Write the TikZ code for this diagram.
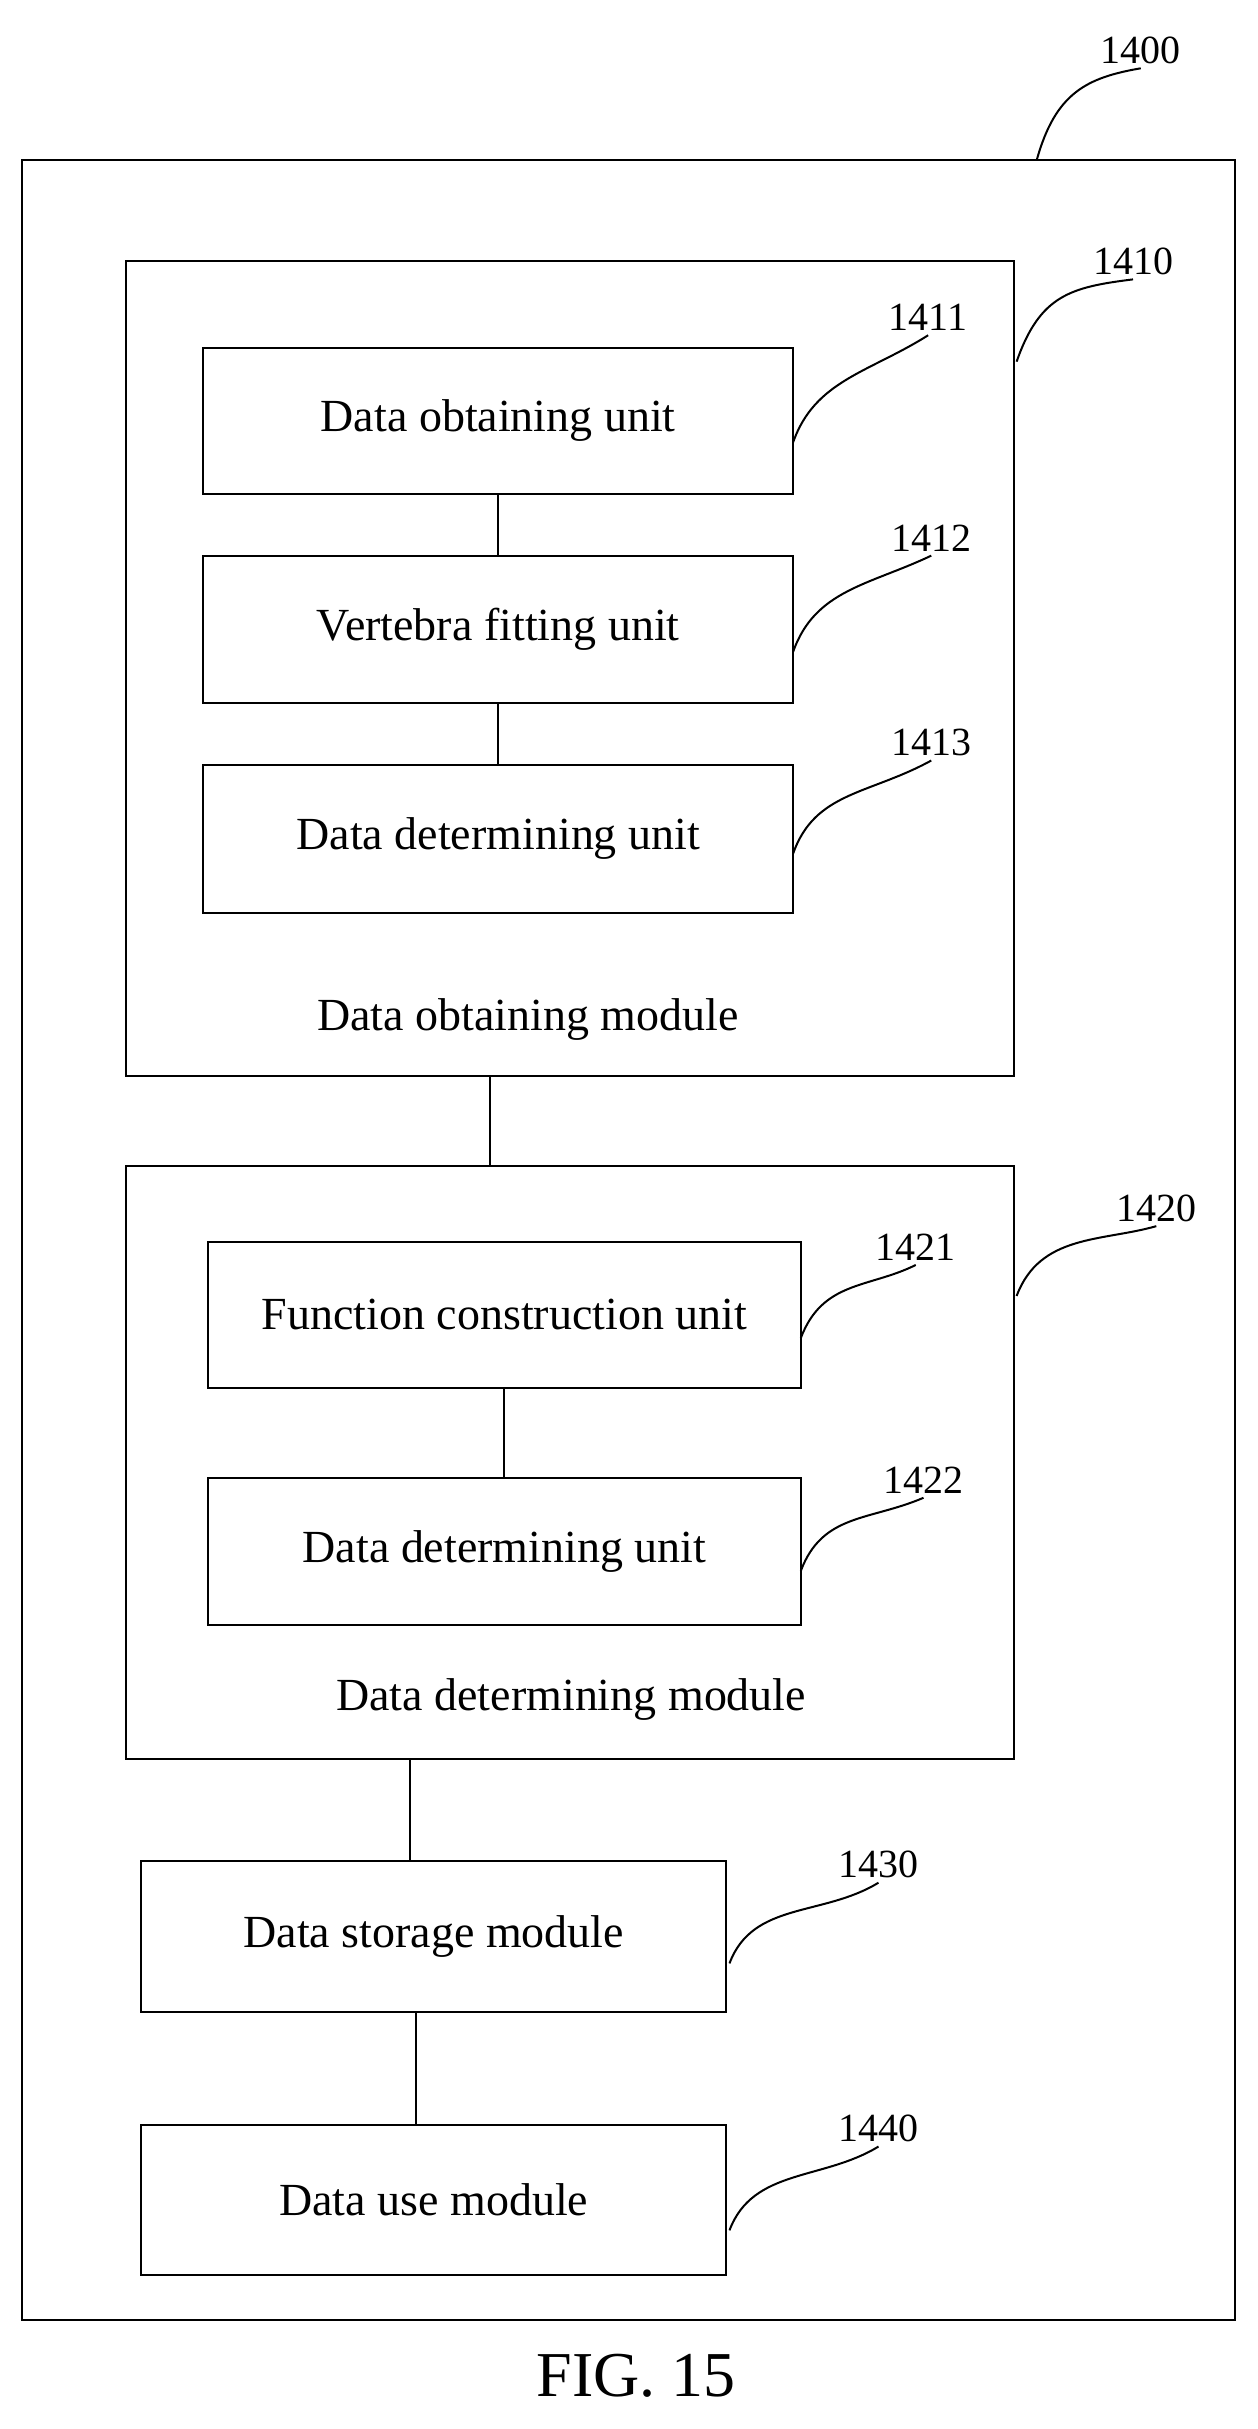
\documentclass[tikz,border=0pt]{standalone}
\usepackage{fontspec}
\setmainfont{Liberation Serif}
\usetikzlibrary{positioning, calc}
\newcommand\unitpx{0.7765pt}
\begin{document}
\begin{tikzpicture}
            [
                x=\unitpx, y=-\unitpx,
                every node/.style={font=\fontsize{23}{27}\selectfont},
                box/.style={draw, line width=1pt, inner sep=0pt},
                lead/.style={line width=1pt},
                ref/.style={anchor=south, inner sep=2pt, font=\fontsize{20}{24}\selectfont}
            ]
            \useasboundingbox (0,0) rectangle (810,1565);
            % outer frame and modules
            \node [box, minimum width=782*\unitpx, minimum height=1392*\unitpx] (d1400) at (405,799) {};
            \node [box, minimum width=572*\unitpx, minimum height=525*\unitpx] (m1410) at (367,430.5) {};
            \node [box, minimum width=380*\unitpx, minimum height=94*\unitpx] (u1411) at (321,271) {Data obtaining unit};
            \node [box, minimum width=380*\unitpx, minimum height=95*\unitpx] (u1412) at (321,405.5) {Vertebra fitting unit};
            \node [box, minimum width=380*\unitpx, minimum height=95*\unitpx] (u1413) at (321,540.5) {Data determining unit};
            \node (t1410) at (340,657) {Data obtaining module};
            \node [box, minimum width=572*\unitpx, minimum height=382*\unitpx] (m1420) at (367,942) {};
            \node [box, minimum width=382*\unitpx, minimum height=94*\unitpx] (u1421) at (325,847) {Function construction unit};
            \node [box, minimum width=382*\unitpx, minimum height=95*\unitpx] (u1422) at (325,999.5) {Data determining unit};
            \node (t1420) at (368,1095) {Data determining module};
            \node [box, minimum width=377*\unitpx, minimum height=97*\unitpx] (m1430) at (279.5,1247.5) {Data storage module};
            \node [box, minimum width=377*\unitpx, minimum height=97*\unitpx] (m1440) at (279.5,1417.5) {Data use module};
            \node [font=\fontsize{32}{36}\selectfont] (fig) at (410,1531) {FIG. 15};
            % connections
            \draw [lead] (u1411) -- (u1412);
            \draw [lead] (u1412) -- (u1413);
            \draw [lead] (u1421) -- (u1422);
            \draw [lead] (m1410.south -| 316,0) -- (m1420.north -| 316,0);
            \draw [lead] (m1420.south -| 264,0) -- (m1430.north -| 264,0);
            \draw [lead] (m1430.south -| 268,0) -- (m1440.north -| 268,0);
            % reference numerals
            \draw [lead] (668,103) .. controls (680,60) and (700,50) .. (735,44) coordinate (c1400);
            \node [ref] at (c1400) {1400};
            \draw [lead] (655,233) .. controls (670,190) and (690,185) .. (730,180) coordinate (c1410);
            \node [ref] at (c1410) {1410};
            \draw [lead] (511,285) .. controls (525,245) and (560,240) .. (598,216) coordinate (c1411);
            \node [ref] at (c1411) {1411};
            \draw [lead] (511,420) .. controls (525,380) and (560,377) .. (600,358) coordinate (c1412);
            \node [ref] at (c1412) {1412};
            \draw [lead] (511,550) .. controls (525,510) and (560,512) .. (600,490) coordinate (c1413);
            \node [ref] at (c1413) {1413};
            \draw [lead] (655,835) .. controls (670,795) and (710,800) .. (745,790) coordinate (c1420);
            \node [ref] at (c1420) {1420};
            \draw [lead] (516,862) .. controls (530,825) and (560,830) .. (590,815) coordinate (c1421);
            \node [ref] at (c1421) {1421};
            \draw [lead] (516,1012) .. controls (530,975) and (560,980) .. (595,965) coordinate (c1422);
            \node [ref] at (c1422) {1422};
            \draw [lead] (470,1265) .. controls (485,1225) and (530,1235) .. (566,1213) coordinate (c1430);
            \node [ref] at (c1430) {1430};
            \draw [lead] (470,1437) .. controls (485,1397) and (530,1405) .. (566,1383) coordinate (c1440);
            \node [ref] at (c1440) {1440};
        \end{tikzpicture}
\end{document}
